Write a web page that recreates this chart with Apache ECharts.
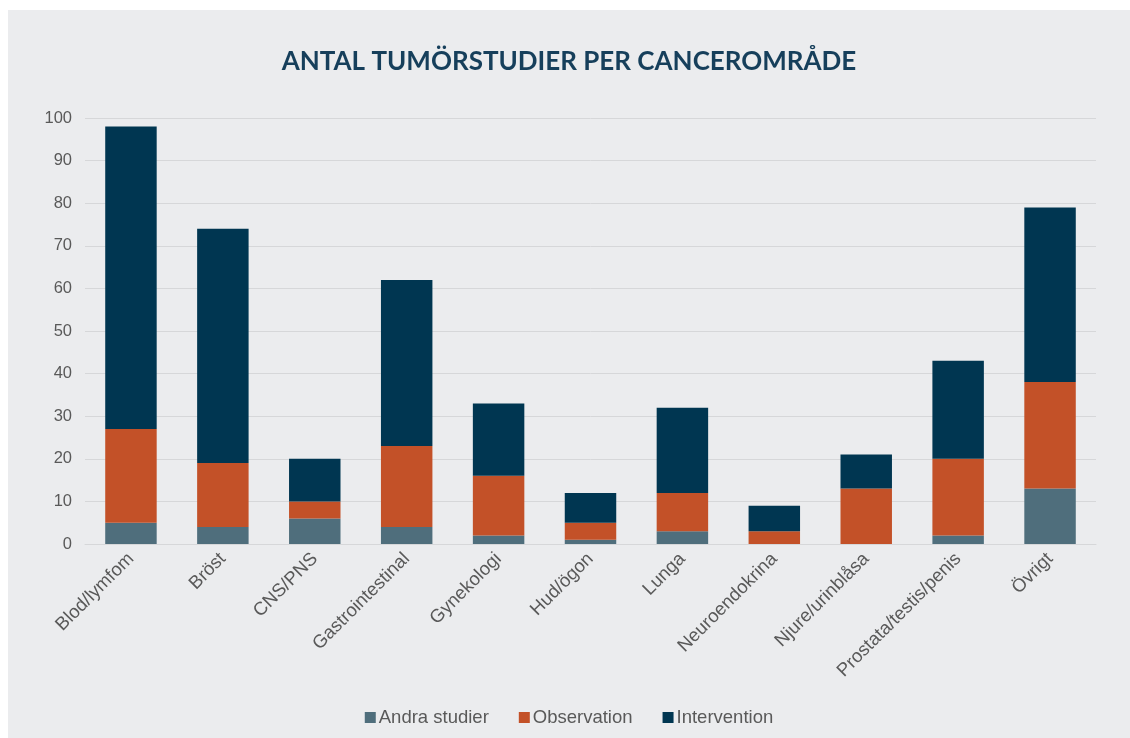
<!DOCTYPE html>
<html lang="sv">
<head>
  <meta charset="utf-8">
  <title>Antal tumörstudier per cancerområde</title>
  <style>
    html, body { margin: 0; padding: 0; background: #ffffff; }
    .box {
      position: absolute;
      left: 8px;
      top: 10px;
      width: 1122px;
      height: 728px;
      background-color: #ebecee;
    }
  </style>
</head>
<body>
  <div class="box" id="main"></div>
  <script src="https://cdn.jsdelivr.net/npm/echarts@6/dist/echarts.min.js"></script>
  <script>
    // kategorier och värden
    var categories = ['Blod/lymfom', 'Bröst', 'CNS/PNS', 'Gastrointestinal', 'Gynekologi', 'Hud/ögon',
      'Lunga', 'Neuroendokrina', 'Njure/urinblåsa', 'Prostata/testis/penis', 'Övrigt'];
    var andra = [5, 4, 6, 4, 2, 1, 3, 0, 0, 2, 13];
    var observation = [22, 15, 4, 19, 14, 4, 9, 3, 13, 18, 25];
    var intervention = [71, 55, 10, 39, 17, 7, 20, 6, 8, 23, 41];

    var myChart = echarts.init(document.getElementById('main'));

    var option = {
      title: {
        text: 'ANTAL TUMÖRSTUDIER PER CANCEROMRÅDE',
        left: 'center',
        top: 34,
        textStyle: {
          fontFamily: 'Lato',
          fontWeight: 'bold',
          fontSize: 26,
          color: '#163f5b'
        }
      },
      legend: {
        bottom: 6,
        left: 'center',
        itemWidth: 11,
        itemHeight: 11,
        itemGap: 30,
        icon: 'rect',
        textStyle: { fontFamily: 'Liberation Sans', fontSize: 18.5, color: '#595959', padding: [0, 0, 0, -2] },
        data: ['Andra studier', 'Observation', 'Intervention']
      },
      grid: {
        left: 77,
        right: 34,
        top: 108,
        height: 426,
        containLabel: false
      },
      xAxis: {
        type: 'category',
        data: categories,
        axisLine: { lineStyle: { color: '#d6d7d9' } },
        axisTick: { show: false },
        axisLabel: {
          rotate: 45,
          interval: 0,
          margin: 12,
          fontFamily: 'Liberation Sans',
          fontSize: 18.5,
          color: '#595959'
        }
      },
      yAxis: {
        type: 'value',
        min: 0,
        max: 100,
        interval: 10,
        axisLine: { show: false },
        axisTick: { show: false },
        axisLabel: {
          margin: 13,
          fontFamily: 'Liberation Sans',
          fontSize: 16.5,
          color: '#595959'
        },
        splitLine: { lineStyle: { color: '#d6d7d9', width: 1 } }
      },
      series: [
        {
          name: 'Andra studier',
          type: 'bar',
          stack: 'total',
          barWidth: '56%',
          data: andra,
          itemStyle: { color: '#4f6e7c' }
        },
        {
          name: 'Observation',
          type: 'bar',
          stack: 'total',
          data: observation,
          itemStyle: { color: '#c35128' }
        },
        {
          name: 'Intervention',
          type: 'bar',
          stack: 'total',
          data: intervention,
          itemStyle: { color: '#003651' }
        }
      ]
    };
    myChart.setOption(option);
  </script>
</body>
</html>
